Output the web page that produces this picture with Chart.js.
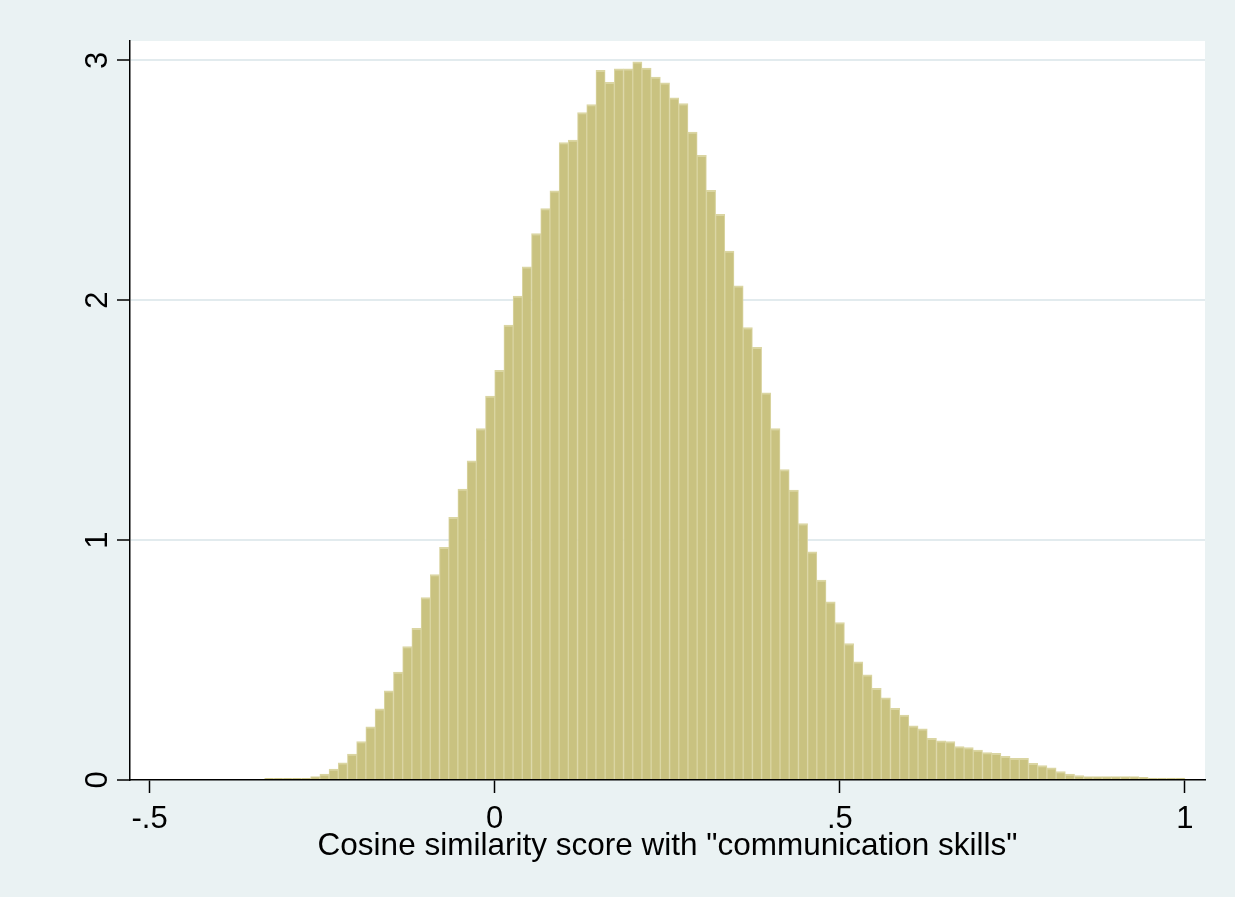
<!DOCTYPE html>
<html>
<head>
<meta charset="utf-8">
<script src="https://cdn.jsdelivr.net/npm/chart.js@4.4.1/dist/chart.umd.min.js"></script>
<style>
  html, body { margin: 0; padding: 0; background: #EAF2F3; }
  canvas { display: block; }
</style>
</head>
<body>
<canvas id="histChart" width="1235" height="897"></canvas>
<script>
// histogram bins: 100 bins from about -.333 to 1
const binStart = -0.3333;
const binWidth = 0.013333;
const density = [
  0.007, 0.007, 0.007, 0.007, 0.007, 0.014, 0.025, 0.045, 0.072, 0.108,
  0.160, 0.222, 0.297, 0.372, 0.450, 0.556, 0.632, 0.760, 0.856, 0.970,
  1.095, 1.213, 1.330, 1.465, 1.600, 1.708, 1.896, 2.017, 2.139, 2.278,
  2.382, 2.456, 2.657, 2.667, 2.782, 2.815, 2.958, 2.908, 2.964, 2.964,
  2.994, 2.968, 2.930, 2.906, 2.843, 2.820, 2.701, 2.604, 2.458, 2.358,
  2.205, 2.060, 1.886, 1.803, 1.614, 1.465, 1.294, 1.208, 1.069, 0.951,
  0.833, 0.743, 0.656, 0.569, 0.493, 0.438, 0.382, 0.343, 0.299, 0.271,
  0.226, 0.213, 0.174, 0.163, 0.160, 0.139, 0.135, 0.125, 0.114, 0.111,
  0.099, 0.090, 0.090, 0.069, 0.060, 0.051, 0.035, 0.025, 0.018, 0.014,
  0.014, 0.014, 0.014, 0.014, 0.014, 0.011, 0.008, 0.008, 0.008, 0.008
];
const xTicks = [-0.5, 0, 0.5, 1];
const xTickLabels = ['-.5', '0', '.5', '1'];
const yTicks = [0, 1, 2, 3];
const yTickLabels = ['0', '1', '2', '3'];
const xTitle = 'Cosine similarity score with "communication skills"';

const points = density.map((d, i) => ({ x: binStart + binWidth * (i + 0.5), y: d }));
const FONT = '"Liberation Sans", Arial, Helvetica, sans-serif';

// stata-ish backdrop: grey-blue page, white plot region
const backdrop = {
  id: 'backdrop',
  beforeDraw(chart) {
    const { ctx, chartArea: a } = chart;
    ctx.save();
    ctx.fillStyle = '#EAF2F3';
    ctx.fillRect(0, 0, chart.width, chart.height);
    ctx.fillStyle = '#FFFFFF';
    ctx.fillRect(a.left, a.top, a.right - a.left, a.bottom - a.top);
    ctx.restore();
  }
};

// y labels are rotated in the original
const yLabels = {
  id: 'yLabels',
  afterDraw(chart) {
    const { ctx, scales: { y } } = chart;
    ctx.save();
    ctx.font = '31px ' + FONT;
    ctx.fillStyle = '#000';
    ctx.textAlign = 'center';
    ctx.textBaseline = 'middle';
    yTicks.forEach((v, i) => {
      ctx.save();
      ctx.translate(98, y.getPixelForValue(v));
      ctx.rotate(-Math.PI / 2);
      ctx.fillText(yTickLabels[i], 0, 0);
      ctx.restore();
    });
    ctx.restore();
  }
};

const ctx = document.getElementById('histChart').getContext('2d');
const histChart = new Chart(ctx, {
  type: 'bar',
  data: {
    datasets: [{
      data: points,
      backgroundColor: '#C9C280',
      borderColor: '#DAD5A2',
      borderWidth: { top: 2, left: 1, right: 1, bottom: 0 },
      borderSkipped: false,
      barPercentage: 1,
      categoryPercentage: 1
    }]
  },
  options: {
    responsive: false,
    animation: false,
    layout: { padding: { top: 41, right: 30, left: 0, bottom: 0 } },
    plugins: {
      legend: { display: false },
      tooltip: { enabled: false }
    },
    scales: {
      x: {
        type: 'linear',
        offset: false,
        min: -0.5283,
        max: 1.029,
        afterFit: s => { s.height = 117; },
        afterBuildTicks: s => { s.ticks = xTicks.map(v => ({ value: v })); },
        grid: {
          offset: false,
          drawOnChartArea: false,
          drawTicks: true,
          tickLength: 13,
          tickColor: '#000',
          tickWidth: 1.5
        },
        border: { display: true, color: '#000', width: 1.5 },
        ticks: {
          color: '#000',
          padding: 8,
          maxRotation: 0,
          font: { family: FONT, size: 31 },
          callback: v => xTickLabels[xTicks.indexOf(v)]
        },
        title: {
          display: true,
          text: xTitle,
          color: '#000',
          font: { family: FONT, size: 31.5 },
          padding: { top: 0, bottom: 32 }
        }
      },
      y: {
        min: 0,
        max: 3.0804,
        afterFit: s => { s.width = 130; },
        afterBuildTicks: s => { s.ticks = yTicks.map(v => ({ value: v })); },
        grid: {
          color: c => (c.tick && c.tick.value === 0) ? 'rgba(0,0,0,0)' : '#E2EBEE',
          lineWidth: 2,
          drawTicks: true,
          tickLength: 13,
          tickColor: '#000',
          tickWidth: 1.5
        },
        border: { display: true, color: '#000', width: 1.5 },
        ticks: { display: false }
      }
    }
  },
  plugins: [backdrop, yLabels]
});
</script>
</body>
</html>
